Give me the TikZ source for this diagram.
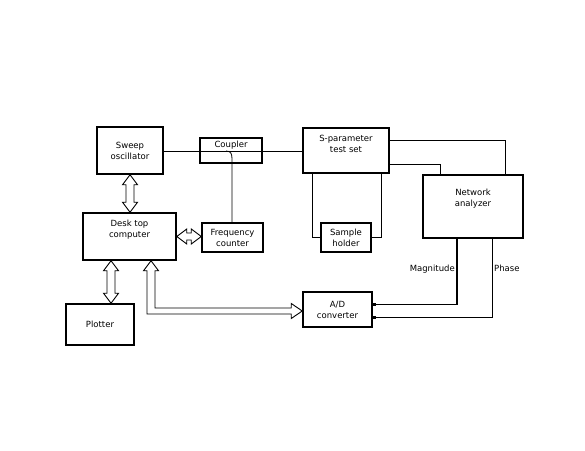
\documentclass[tikz,border=0pt]{standalone}
\usepackage{fontspec}
\setmainfont{DejaVu Sans}
\usetikzlibrary{calc}
\tikzset{
  box/.style={draw, line width=1.5pt, align=center, font=\fontsize{8.5}{11}\selectfont, inner sep=1pt},
  wire/.style={line width=0.8pt},
  thickwire/.style={line width=1.5pt},
  hollow/.style={draw, line width=0.9pt, fill=white, line join=miter},
  lbl/.style={font=\fontsize{8.5}{10}\selectfont, inner sep=1pt},
  pin/.style={fill=black, draw=none, minimum size=3.5pt, inner sep=0pt}
}
% vertical hollow double arrow: top point #1, bottom point #2 (x of #1 used)
\newcommand\vhollow[2]{%
  \path[hollow] let \p1=(#1), \p2=(#2) in
    (\x1,\y1) -- (\x1+7.5pt,\y1-10pt) -- (\x1+4pt,\y1-10pt) -- (\x1+4pt,\y2+10pt)
    -- (\x1+7.5pt,\y2+10pt) -- (\x1,\y2) -- (\x1-7.5pt,\y2+10pt) -- (\x1-4pt,\y2+10pt)
    -- (\x1-4pt,\y1-10pt) -- (\x1-7.5pt,\y1-10pt) -- cycle;}
% horizontal hollow double arrow: left point #1, right point #2 (y of #1 used)
\newcommand\hhollow[2]{%
  \path[hollow] let \p1=(#1), \p2=(#2) in
    (\x1,\y1) -- (\x1+10pt,\y1+7.5pt) -- (\x1+10pt,\y1+3.5pt) -- (\x2-10pt,\y1+3.5pt)
    -- (\x2-10pt,\y1+7.5pt) -- (\x2,\y1) -- (\x2-10pt,\y1-7.5pt) -- (\x2-10pt,\y1-3.5pt)
    -- (\x1+10pt,\y1-3.5pt) -- (\x1+10pt,\y1-7.5pt) -- cycle;}
\begin{document}
\begin{tikzpicture}[x=1pt,y=1pt]
\useasboundingbox (0,0) rectangle (585,450);
% boxes
\node[box, minimum width=66pt, minimum height=47pt] (sweep) at (130,299.5) {Sweep\\oscillator};
\node[box, minimum width=62pt, minimum height=25pt] (coupler) at (231,299.5) {};
\node[lbl] (couplertxt) at (231,305) {Coupler};
\node[box, minimum width=61pt, minimum height=29pt] (freq) at (232.5,212.5) {Frequency\\counter};
\node[box, minimum width=93pt, minimum height=47pt] (desk) at (129.5,213.5) {Desk top\\computer\\[4pt]};
\node[box, minimum width=86pt, minimum height=45pt] (sparam) at (346,299.5) {S-parameter\\test set\\[3pt]};
\node[box, minimum width=100pt, minimum height=63pt] (network) at (473,243.5) {Network\\analyzer\\[6pt]};
\node[box, minimum width=50pt, minimum height=29pt] (sample) at (346,212.5) {Sample\\holder};
\node[box, minimum width=69pt, minimum height=35pt] (ad) at (337.5,140.5) {A/D\\converter};
\node[box, minimum width=68pt, minimum height=41pt] (plotter) at (100,125.5) {Plotter};
% main RF line through coupler
\draw[wire] (sweep.east |- 0,299) -- (sparam.west |- 0,299);
% coupler branch to frequency counter
\coordinate (cpl) at ($(coupler.center)+(-5,-0.5)$);
\coordinate (brx) at ($(cpl)+(6,-8)$);
\draw[wire] (cpl) .. controls ($(cpl)+(5,0)$) and ($(cpl)+(6,-3)$) .. (brx) -- (brx |- freq.north);
% S-parameter to sample holder
\draw[wire] ($(sparam.south)+(-34,0)$) |- (sample.west);
\draw[wire] ($(sparam.south)+(35,0)$) |- (sample.east);
% S-parameter to network analyzer
\draw[wire] ($(sparam.east)+(0,10.5)$) -| ($(network.north)+(32,0)$);
\draw[wire] ($(sparam.east)+(0,-13.5)$) -| ($(network.north)+(-33,0)$);
% network analyzer to A/D
\coordinate (magin) at ($(ad.east)+(0,5)$);
\coordinate (phin) at ($(ad.east)+(0,-8)$);
\draw[thickwire] ($(network.south)+(-16,0)$) |- (magin);
\draw[wire] ($(network.south)+(19,0)$) |- (phin);
\node[pin, anchor=west] (pm) at (magin) {};
\node[pin, anchor=west] (pp) at (phin) {};
\node[lbl, anchor=east] (mag) at ($(network.south)+(-17,-30)$) {Magnitude};
\node[lbl, anchor=west] (ph) at ($(network.south)+(20,-30)$) {Phase};
% hollow double arrows
\vhollow{sweep.south}{desk.north}
\hhollow{desk.east}{freq.west}
\coordinate (pltop) at ($(desk.south)+(-18.5,0)$);
\vhollow{pltop}{plotter.north}
% elbow arrow desk -> A/D
\coordinate (eltop) at ($(desk.south)+(21.5,0)$);
\coordinate (eltip) at ($(ad.west)+(0,-1.5)$);
\path[hollow] let \p1=(eltop), \p2=(eltip) in
  (\x1,\y1) -- (\x1+7.5pt,\y1-10pt) -- (\x1+4pt,\y1-10pt) -- (\x1+4pt,\y2+3pt)
  -- (\x2-11pt,\y2+3pt) -- (\x2-11pt,\y2+7.5pt) -- (\x2,\y2) -- (\x2-11pt,\y2-7.5pt)
  -- (\x2-11pt,\y2-3pt) -- (\x1-4pt,\y2-3pt) -- (\x1-4pt,\y1-10pt) -- (\x1-7.5pt,\y1-10pt) -- cycle;
\end{tikzpicture}
\end{document}
